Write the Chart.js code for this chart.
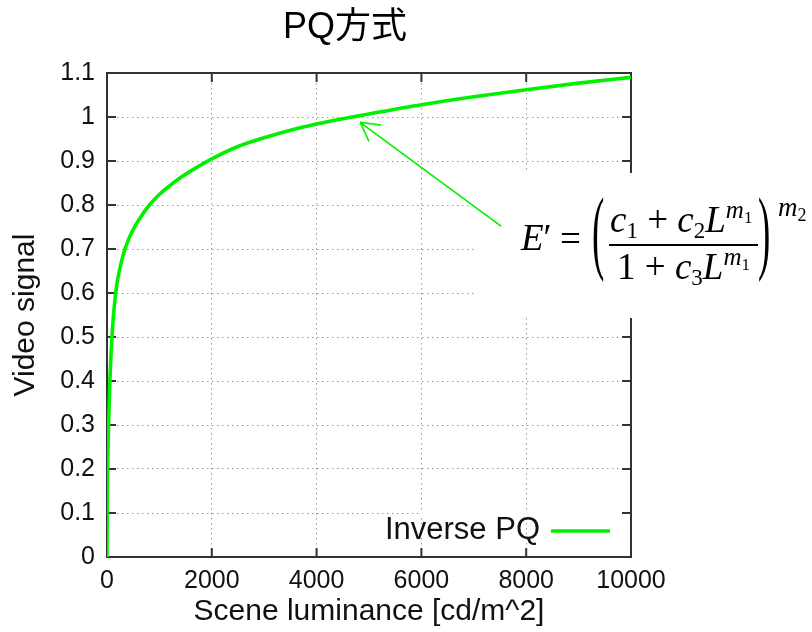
<!DOCTYPE html>
<html>
<head>
<meta charset="utf-8">
<script src="https://cdn.jsdelivr.net/npm/chart.js@4"></script>
<style>
  body { margin: 0; background: #fff; }
  #wrap { position: absolute; left: 0; top: 0; width: 690px; height: 632px; }
  #formula {
    position: absolute; left: 474px; top: 173px; width: 338px; height: 145px;
    font-family: "Liberation Serif", "DejaVu Serif", serif;
    font-size: 37px; color: #000;
  }
  #formula > span { position: absolute; white-space: nowrap; line-height: 1; }
  #formula i { font-style: italic; }
  #formula .sub { font-size: 23px; vertical-align: -6px; }
  #formula .sup { font-size: 25px; vertical-align: 14px; }
  #formula .sup .sub { font-size: 17px; vertical-align: -5px; }
  #formula .paren { transform-origin: 50% 24px; transform: scale(1, 2.5); }
  #formula .bar { height: 1.6px; background: #000; }
</style>
</head>
<body>
<div id="wrap"><canvas id="pqChart" width="690" height="632"></canvas></div>
<div id="formula">
  <span style="left:47px; top:46px;"><i>E</i>′</span>
  <span style="left:86px; top:47px;">=</span>
  <span class="paren" style="left:118px; top:47px;">(</span>
  <span style="left:136px; top:24px;"><i>c</i><span class="sub">1</span> + <i>c</i><span class="sub">2</span><i>L</i><span class="sup"><i>m</i><span class="sub">1</span></span></span>
  <span class="bar" style="left:135px; top:71px; width:149px;"></span>
  <span style="left:143px; top:71px;">1 + <i>c</i><span class="sub">3</span><i>L</i><span class="sup"><i>m</i><span class="sub">1</span></span></span>
  <span class="paren" style="left:284px; top:47px;">)</span>
  <span style="left:304px; top:21px; font-size:27px;"><i>m</i><span class="sub" style="font-size:18px; vertical-align:-5px;">2</span></span>
</div>
<script>
// scene luminance [cd/m^2] and video signal
const luminance = [0, 3, 12, 30, 55, 100, 165, 240, 330, 430, 530, 650, 810, 1000, 1200, 1400, 1650, 2000, 2500, 3000, 3500, 4000, 4500, 5000, 6000, 7000, 8000, 9000, 10000];
const videoSignal = [0, 0.1, 0.2, 0.3, 0.4, 0.51, 0.6, 0.653, 0.695, 0.727, 0.751, 0.774, 0.8, 0.824, 0.844, 0.862, 0.881, 0.905, 0.933, 0.953, 0.970, 0.984, 0.996, 1.007, 1.028, 1.046, 1.062, 1.077, 1.090];
const xTicks = [0, 2000, 4000, 6000, 8000, 10000];
const yTicks = [0, 0.1, 0.2, 0.3, 0.4, 0.5, 0.6, 0.7, 0.8, 0.9, 1, 1.1];
const seriesName = 'Inverse PQ';
const chartTitle = 'PQ方式';
const arrowTip = { x: 4830, y: 0.988 };
const arrowTail = { x: 7520, y: 0.752 };

const green = '#00f000';
const sans = 'Liberation Sans, Arial, sans-serif';
const tickFont = { family: sans, size: 25 };
const titleFont = { family: sans, size: 30 };

const points = luminance.map((l, i) => ({ x: l, y: videoSignal[i] }));

function gridColor(max) {
  return ctx => (ctx.tick && (ctx.tick.value === 0 || Math.abs(ctx.tick.value - max) < 1e-9)) ? 'rgba(0,0,0,0)' : '#999';
}

const framePlugin = {
  id: 'frame',
  beforeDatasetsDraw(chart) {
    const c = chart.ctx, a = chart.chartArea;
    const xs = chart.scales.x, ys = chart.scales.y;
    c.save();
    // legend box hides the grid line behind it
    c.fillStyle = '#fff';
    const gy = ys.getPixelForValue(0.1);
    c.fillRect(xs.getPixelForValue(6000) - 1, gy - 2, a.right - xs.getPixelForValue(6000), 4);
    c.strokeStyle = '#333';
    c.lineWidth = 2;
    c.strokeRect(a.left, a.top, a.right - a.left, a.bottom - a.top);
    c.beginPath();
    yTicks.forEach(v => {
      const py = ys.getPixelForValue(v);
      c.moveTo(a.left, py); c.lineTo(a.left + 9, py);
      c.moveTo(a.right, py); c.lineTo(a.right - 9, py);
    });
    xTicks.forEach(v => {
      const px = xs.getPixelForValue(v);
      c.moveTo(px, a.top); c.lineTo(px, a.top + 9);
      c.moveTo(px, a.bottom); c.lineTo(px, a.bottom - 9);
    });
    c.stroke();
    c.restore();
  },
  afterDatasetsDraw(chart) {
    const c = chart.ctx, a = chart.chartArea;
    c.save();
    c.font = '31px ' + sans;
    c.fillStyle = '#111';
    c.textAlign = 'right';
    c.textBaseline = 'middle';
    c.fillText(seriesName, a.right - 91, a.bottom - 27);
    c.strokeStyle = green;
    c.lineWidth = 3.5;
    c.beginPath();
    c.moveTo(a.right - 80, a.bottom - 26);
    c.lineTo(a.right - 21, a.bottom - 26);
    c.stroke();
    c.restore();
  },
  afterDraw(chart) {
    const c = chart.ctx;
    const xs = chart.scales.x, ys = chart.scales.y;
    c.save();
    // title, centred on the picture
    c.font = '36px Liberation Sans, Noto Sans CJK JP, sans-serif';
    c.fillStyle = '#000';
    c.textAlign = 'center';
    c.textBaseline = 'middle';
    c.fillText(chartTitle, chart.width / 2, 28);
    // white panel of the formula
    const box = document.getElementById('formula');
    c.fillStyle = '#fff';
    c.fillRect(box.offsetLeft, box.offsetTop, box.offsetWidth, box.offsetHeight);
    // arrow pointing at the curve
    const tx = xs.getPixelForValue(arrowTip.x), ty = ys.getPixelForValue(arrowTip.y);
    const sx = xs.getPixelForValue(arrowTail.x), sy = ys.getPixelForValue(arrowTail.y);
    const ang = Math.atan2(sy - ty, sx - tx);
    c.strokeStyle = green;
    c.lineWidth = 1.6;
    c.beginPath();
    c.moveTo(sx, sy); c.lineTo(tx, ty);
    [-0.5, 0.5].forEach(d => {
      c.moveTo(tx, ty);
      c.lineTo(tx + 21 * Math.cos(ang + d), ty + 21 * Math.sin(ang + d));
    });
    c.stroke();
    c.restore();
  }
};

new Chart(document.getElementById('pqChart'), {
  type: 'line',
  data: {
    datasets: [{
      label: seriesName,
      data: points,
      borderColor: green,
      borderWidth: 3.6,
      pointRadius: 0,
      cubicInterpolationMode: 'monotone',
      fill: false
    }]
  },
  options: {
    responsive: false,
    animation: false,
    layout: { padding: { left: 6, right: 59, top: 73, bottom: 0 } },
    plugins: {
      legend: { display: false },
      tooltip: { enabled: false },
      title: { display: false }
    },
    scales: {
      x: {
        type: 'linear',
        min: 0, max: 10000,
        afterBuildTicks: s => { s.ticks = xTicks.map(v => ({ value: v })); },
        afterFit: s => { s.height = 75; },
        ticks: { font: tickFont, color: '#111', padding: 9, maxRotation: 0, callback: v => String(v) },
        grid: { color: gridColor(10000), lineWidth: 1, drawTicks: false },
        border: { display: false, dash: [1.5, 3.5] },
        title: { display: true, text: 'Scene luminance [cd/m^2]', font: titleFont, color: '#111', padding: { top: 0, bottom: 2 } }
      },
      y: {
        type: 'linear',
        min: 0, max: 1.1,
        afterBuildTicks: s => { s.ticks = yTicks.map(v => ({ value: v })); },
        afterFit: s => { s.width = 101; },
        ticks: { font: tickFont, color: '#111', padding: 12, callback: v => String(Math.round(v * 10) / 10) },
        grid: { color: gridColor(1.1), lineWidth: 1, drawTicks: false },
        border: { display: false, dash: [1.5, 3.5] },
        title: { display: true, text: 'Video signal', font: titleFont, color: '#111', padding: { top: 2, bottom: 0 } }
      }
    }
  },
  plugins: [framePlugin]
});
</script>
</body>
</html>
